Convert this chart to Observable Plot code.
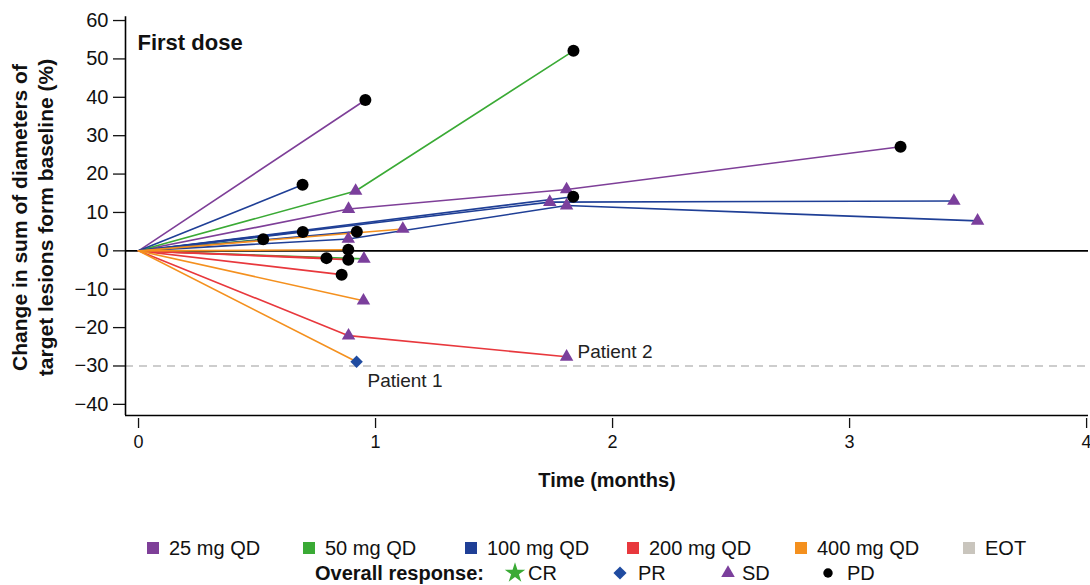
<!DOCTYPE html>
<html><head><meta charset="utf-8">
<script src="https://cdn.jsdelivr.net/npm/d3@7"></script>
<script src="https://cdn.jsdelivr.net/npm/@observablehq/plot@0.6"></script>
<style>
body{margin:0;background:#fff;font-family:"Liberation Sans",Arial,sans-serif;}
#chart{width:1090px;}
.legend{position:relative;width:1090px;height:85px;font-size:20px;color:#111;}
.item{position:absolute;display:flex;align-items:center;white-space:nowrap;line-height:1;}
.item svg{position:absolute;overflow:visible;}
</style></head><body>
<div id="chart"></div>
<div class="legend" id="legend"></div>
<script>
// Dose groups and colours
const doses = ["25 mg QD","50 mg QD","100 mg QD","200 mg QD","400 mg QD"];
const doseColors = ["#7e3f98","#3aaa35","#1f3f96","#e8383d","#f4901e"];
const eotLabel = "EOT";
const eotColor = "#c9c5bd";
// Overall response markers
const responses = ["CR","PR","SD","PD"];
const responseSymbols = ["star","diamond2","triangle","circle"];
const responseColors = ["#3aaa35","#1f4ba0","#7b3f9c","#000000"];
const responseSizes = [6,5.6,5,6];

// Per-patient trajectories (time in months, % change from baseline)
const patientDose = ["25 mg QD","25 mg QD","50 mg QD","100 mg QD","100 mg QD","100 mg QD","100 mg QD","100 mg QD","100 mg QD","50 mg QD","50 mg QD","200 mg QD","200 mg QD","200 mg QD","200 mg QD","400 mg QD","400 mg QD","400 mg QD","400 mg QD"];
const patientTimes = [[0,0.957],[0,0.886,1.806,3.215],[0,0.916,1.835],[0,0.692],[0,1.735,3.44],[0,0.885,1.806,3.54],[0,1.834],[0,0.693],[0,0.921],[0,0.526],[0,0.951],[0,0.886,1.806],[0,0.857],[0,0.793],[0,0.885],[0,0.92],[0,0.949],[0,0.885],[0,1.115]];
const patientChange = [[0,39.3],[0,10.9,16.0,27.1],[0,15.6,52.1],[0,17.2],[0,12.7,13.0],[0,3.1,11.8,7.8],[0,14.1],[0,4.9],[0,5.0],[0,3.0],[0,-2.1],[0,-22.1,-27.6],[0,-6.2],[0,-1.9],[0,-2.3],[0,-28.9],[0,-13.0],[0,0.3],[0,5.7]];
const patientResp = [[null,"PD"],[null,"SD","SD","PD"],[null,"SD","PD"],[null,"PD"],[null,"SD","SD"],[null,"SD","SD","SD"],[null,"PD"],[null,"PD"],[null,"PD"],[null,"PD"],[null,"SD"],[null,"SD","SD"],[null,"PD"],[null,"PD"],[null,"PD"],[null,"PR"],[null,"SD"],[null,"PD"],[null,"SD"]];

// Annotations
const noteText = ["Patient 1","Patient 2"];
const noteX = [0.966,1.852];
const noteY = [-33.9,-26.3];

const yTicks = [-40,-30,-20,-10,0,10,20,30,40,50,60];
const xTicks = [0,1,2,3,4];
const xDomain = [-0.055,4.008];
const yDomain = [-42.9,61];
const refLine = -30;

const rows = [];
patientDose.forEach((dose,i)=>{
  patientTimes[i].forEach((t,j)=>{
    rows.push({id:i, dose, t, v:patientChange[i][j], resp:patientResp[i][j]});
  });
});
const notes = noteText.map((s,i)=>({s, x:noteX[i], y:noteY[i]}));

const marks = [
  Plot.ruleY([refLine], {stroke:"#bdbdbd", strokeWidth:1.6, strokeDasharray:"8,6"}),
  Plot.ruleY([0], {stroke:"#000", strokeWidth:1.6}),
  ...doses.map((dose,k)=>Plot.line(rows.filter(r=>r.dose===dose), {x:"t", y:"v", z:"id", stroke:doseColors[k], strokeWidth:1.6})),
  ...responses.map((r,k)=>Plot.dot(rows.filter(d=>d.resp===r), {x:"t", y:"v", symbol:responseSymbols[k], fill:responseColors[k], r:responseSizes[k]})),
  Plot.ruleX([xDomain[0]], {y1:yDomain[0], y2:yDomain[1], stroke:"#000", strokeWidth:1.6}),
  Plot.ruleY([yDomain[0]], {x1:xDomain[0], x2:xDomain[1], stroke:"#000", strokeWidth:1.6}),
  Plot.axisY({ticks:yTicks, tickSize:12, tickPadding:5, fontSize:20, label:null, strokeWidth:1.3}),
  Plot.axisX({ticks:xTicks, tickFormat:"d", tickSize:10, tickPadding:7, fontSize:18, label:null, strokeWidth:1.3}),
  Plot.text(notes, {x:"x", y:"y", text:"s", textAnchor:"start", fontSize:19, fill:"#222"}),
  Plot.text(["First dose"], {frameAnchor:"top-left", dx:12, dy:18, fontSize:22, fontWeight:"bold", fill:"#111"}),
  Plot.text(["Change in sum of diameters of"], {frameAnchor:"left", dx:-105, rotate:-90, textAnchor:"middle", lineAnchor:"middle", fontSize:21, fontWeight:"bold", fill:"#111"}),
  Plot.text(["target lesions form baseline (%)"], {frameAnchor:"left", dx:-79, rotate:-90, textAnchor:"middle", lineAnchor:"middle", fontSize:21, fontWeight:"bold", fill:"#111"}),
  Plot.text(["Time (months)"], {frameAnchor:"bottom", dy:68, fontSize:20, fontWeight:"bold", fill:"#111"})
];

const chart = Plot.plot({
  width:1090, height:500,
  marginLeft:125, marginRight:2, marginTop:16, marginBottom:82,
  x:{domain:xDomain},
  y:{domain:yDomain, range:[415,16.2]},
  style:{fontFamily:"'Liberation Sans', Arial, sans-serif", fontSize:"20px", color:"#111", background:"#fff", overflow:"visible"},
  marks
});
document.getElementById("chart").appendChild(chart);

// Legend
const leg = document.getElementById("legend");
const row1Y = 48, row2Y = 73;
const row1Left = [147,303,465,627,795,963];
const row1Labels = [...doses, eotLabel];
const row1Colors = [...doseColors, eotColor];
row1Labels.forEach((lab,i)=>{
  const d = document.createElement("div");
  d.className="item";
  d.style.left = row1Left[i]+"px"; d.style.top = (row1Y-10)+"px"; d.style.height="20px";
  d.innerHTML = `<span style="display:inline-block;width:12px;height:12px;background:${row1Colors[i]};margin-right:10px"></span>${lab}`;
  leg.appendChild(d);
});
const ov = document.createElement("div");
ov.className="item"; ov.style.left="315px"; ov.style.top=(row2Y-10)+"px"; ov.style.height="20px"; ov.style.fontWeight="bold";
ov.textContent="Overall response:";
leg.appendChild(ov);
const symCenter = [515,620,728,828];
const symText = [528,638,742,847];
const symSize = [130,110,80,70];
responses.forEach((r,k)=>{
  const s = document.createElementNS("http://www.w3.org/2000/svg","svg");
  s.setAttribute("width",24); s.setAttribute("height",24);
  s.style.position="absolute"; s.style.left=(symCenter[k]-12)+"px"; s.style.top=(row2Y-12)+"px";
  const typeMap = {star:d3.symbolStar, diamond2:d3.symbolDiamond2, triangle:d3.symbolTriangle, circle:d3.symbolCircle};
  const p = document.createElementNS("http://www.w3.org/2000/svg","path");
  p.setAttribute("d", d3.symbol(typeMap[responseSymbols[k]], symSize[k])());
  p.setAttribute("transform","translate(12,12)");
  p.setAttribute("fill", responseColors[k]);
  s.appendChild(p);
  leg.appendChild(s);
  const t = document.createElement("div");
  t.className="item"; t.style.left=symText[k]+"px"; t.style.top=(row2Y-10)+"px"; t.style.height="20px";
  t.textContent = r;
  leg.appendChild(t);
});
</script>
</body></html>
